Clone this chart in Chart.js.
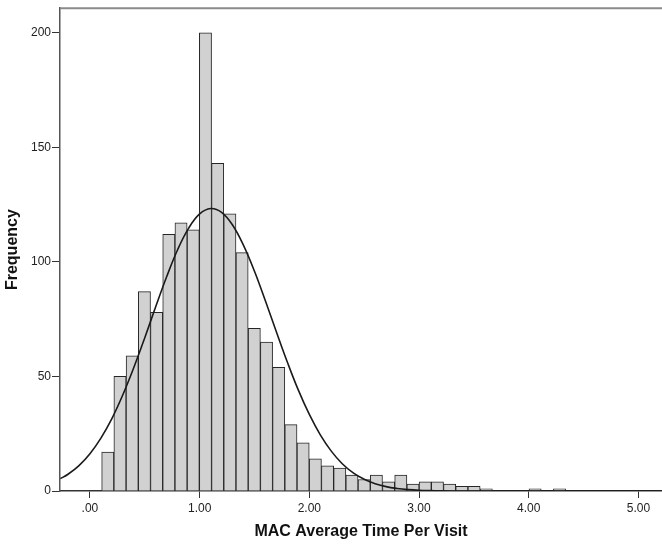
<!DOCTYPE html>
<html>
<head>
<meta charset="utf-8">
<script src="https://cdn.jsdelivr.net/npm/chart.js@4"></script>
<style>
  html, body { margin: 0; padding: 0; background: #ffffff; }
  #wrap { width: 662px; height: 545px; position: relative; }
</style>
</head>
<body>
<div id="wrap"><canvas id="c"></canvas></div>
<script>
// Histogram bins (bin midpoints, MAC Average Time Per Visit) and frequencies
const binMid = [0.1626, 0.2739, 0.3852, 0.4965, 0.6078, 0.7191, 0.8304, 0.9417, 1.0530, 1.1643,
                1.2756, 1.3869, 1.4982, 1.6095, 1.7208, 1.8321, 1.9434, 2.0547, 2.1660, 2.2773,
                2.3886, 2.4999, 2.6112, 2.7225, 2.8338, 2.9451, 3.0564, 3.1677, 3.2790, 3.3903,
                3.5016, 3.6129, 4.0581, 4.2807];
const freq = [17, 50, 59, 87, 78, 112, 117, 114, 200, 143,
              121, 104, 71, 65, 54, 29, 21, 14, 11, 10,
              7, 5, 7, 4, 7, 3, 4, 4, 3, 2,
              2, 1, 1, 1];

// Normal curve
const curveX = [-0.27, -0.2, -0.1, 0.0, 0.1, 0.2, 0.3, 0.4, 0.5, 0.6, 0.7, 0.8, 0.9, 1.0, 1.1,
                1.2, 1.3, 1.4, 1.5, 1.6, 1.7, 1.8, 1.9, 2.0, 2.1, 2.2, 2.3, 2.4, 2.5, 2.6,
                2.7, 2.8, 2.9, 3.0, 3.1, 3.2, 3.4, 3.7, 4.2, 5.21];
const curveY = [5.4, 7.3, 11.1, 16.3, 23.1, 31.6, 42.0, 53.9, 66.9, 80.5, 93.6, 105.4, 114.7, 120.9, 123.3,
                121.6, 116.1, 107.2, 95.9, 82.9, 69.4, 56.2, 44.0, 33.4, 24.5, 17.4, 11.9, 7.9, 5.1, 3.2,
                1.9, 1.1, 0.6, 0.3, 0.15, 0.07, 0.01, 0, 0, 0];

// Axis ticks
const xTicks = [0, 1, 2, 3, 4, 5];
const xTickLabels = ['.00', '1.00', '2.00', '3.00', '4.00', '5.00'];
const yTicks = [0, 50, 100, 150, 200];

const frameTop = {
  id: 'frameTop',
  afterDraw(chart) {
    const {ctx, chartArea} = chart;
    ctx.save();
    ctx.strokeStyle = '#8a8a8a';
    ctx.lineWidth = 2;
    ctx.beginPath();
    ctx.moveTo(chartArea.left, chartArea.top);
    ctx.lineTo(chartArea.right, chartArea.top);
    ctx.stroke();
    ctx.restore();
  }
};

new Chart(document.getElementById('c'), {
  type: 'bar',
  data: {
    datasets: [
      {
        type: 'line',
        data: curveX.map((x, i) => ({x: x, y: curveY[i]})),
        borderColor: '#1a1a1a',
        borderWidth: 1.6,
        pointRadius: 0,
        tension: 0.4,
        fill: false,
        order: 1
      },
      {
        type: 'bar',
        data: binMid.map((x, i) => ({x: x, y: freq[i]})),
        backgroundColor: '#d1d1d1',
        borderColor: '#262626',
        borderWidth: 1,
        barPercentage: 1.0,
        categoryPercentage: 1.0,
        order: 2
      }
    ]
  },
  options: {
    responsive: true,
    maintainAspectRatio: false,
    animation: false,
    devicePixelRatio: 1,
    layout: { autoPadding: false, padding: { top: 6, right: 0, bottom: 0, left: 0 } },
    plugins: { legend: { display: false }, tooltip: { enabled: false } },
    scales: {
      x: {
        type: 'linear',
        offset: false,
        min: -0.273,
        max: 5.215,
        afterFit(s) { s.height = 54; },
        afterBuildTicks(s) { s.ticks = xTicks.map(v => ({value: v})); },
        grid: { offset: false, drawOnChartArea: false, drawTicks: true, tickLength: 7, color: '#333', lineWidth: 1 },
        border: { display: true, color: '#333', width: 1.5 },
        ticks: {
          autoSkip: false, maxRotation: 0, minRotation: 0, padding: 3,
          color: '#222', font: { family: 'Liberation Sans', size: 12 },
          callback(v) { const i = xTicks.indexOf(v); return i >= 0 ? xTickLabels[i] : ''; }
        },
        title: {
          display: true, text: 'MAC Average Time Per Visit', color: '#111',
          font: { family: 'Liberation Sans', size: 16, weight: 'bold' },
          padding: { top: 0, bottom: 3.4 }
        }
      },
      y: {
        type: 'linear',
        min: 0,
        max: 210.7,
        afterFit(s) { s.width = 60; },
        afterBuildTicks(s) { s.ticks = yTicks.map(v => ({value: v})); },
        grid: { drawOnChartArea: false, drawTicks: true, tickLength: 8, color: '#333', lineWidth: 1 },
        border: { display: true, color: '#555', width: 1.5 },
        ticks: {
          padding: 1, color: '#222', font: { family: 'Liberation Sans', size: 12 }
        },
        title: {
          display: true, text: 'Frequency', color: '#111',
          font: { family: 'Liberation Sans', size: 16, weight: 'bold' },
          padding: { top: 3.4, bottom: 0 }
        }
      }
    }
  },
  plugins: [frameTop]
});
</script>
</body>
</html>
